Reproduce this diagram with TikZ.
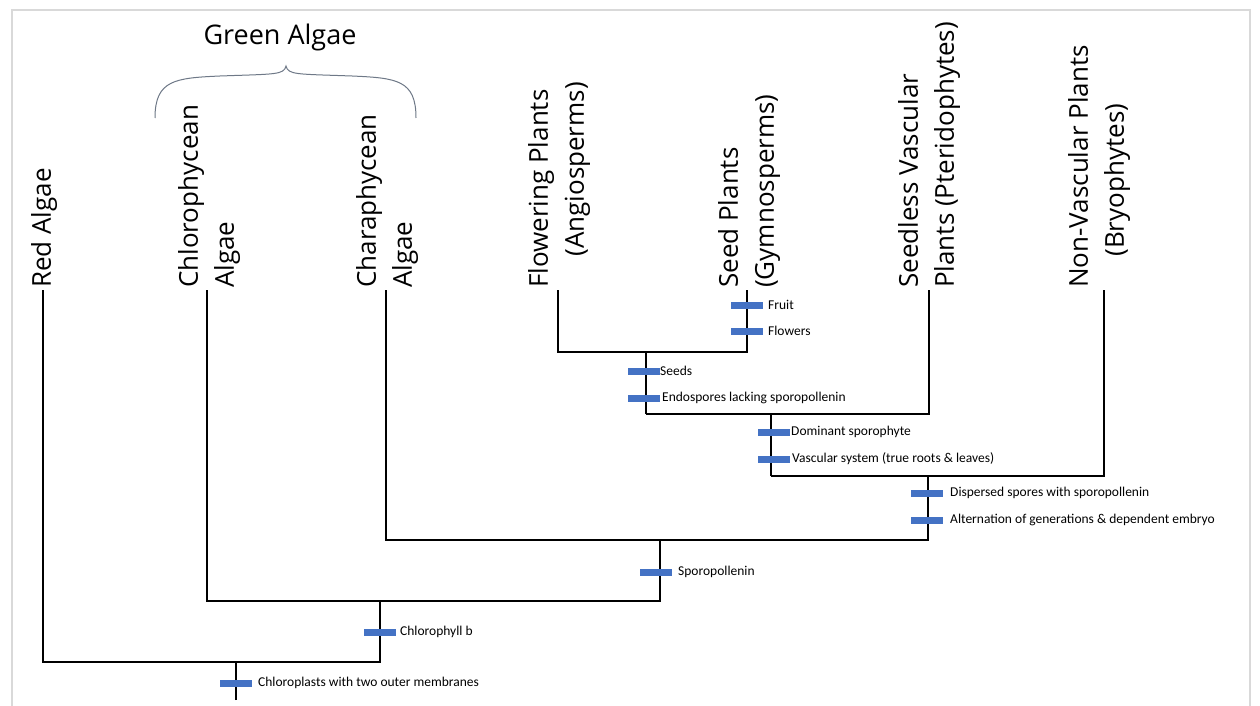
\documentclass[tikz,border=0pt]{standalone}
\usepackage{fontspec}
\setmainfont{Open Sans}
\newfontfamily\smallf{Carlito}
\definecolor{bracec}{RGB}{110,120,135}
\definecolor{mkc}{RGB}{68,114,196}
\begin{document}
\begin{tikzpicture}[x=1pt,y=-1pt,
  br/.style={line width=2pt,black},
  mk/.style={fill=mkc,draw=none,minimum width=32pt,minimum height=7pt,inner sep=0pt},
  ml/.style={font=\smallf\fontsize{13.5}{15}\selectfont,anchor=west,inner sep=0pt},
  tx/.style={font=\fontsize{26}{36}\selectfont,rotate=90,anchor=north west,align=left,inner sep=0pt}]
\useasboundingbox (0,0) rectangle (1260,706);
\fill[white] (0,0) rectangle (1260,706);
\draw[gray!30,line width=1.5pt] (12,706) -- (12,10) -- (1250,10) -- (1250,706);
% labels
\node[tx] (ra) at (31,288) {Red Algae};
\node[tx] (ch) at (178,288) {Chlorophycean\\Algae};
\node[tx] (cr) at (356,288) {Charaphycean\\Algae};
\node[tx] (fp) at (528,288) {Flowering Plants\\\hspace{1.2em}(Angiosperms)};
\node[tx] (sp) at (718,288) {Seed Plants\\(Gymnosperms)};
\node[tx] (sv) at (898,288) {Seedless Vascular\\Plants (Pteridophytes)};
\node[tx] (nv) at (1068,288) {Non-Vascular Plants\\\hspace{1.2em}(Bryophytes)};
\node[font=\fontsize{27}{30}\selectfont] (ga) at (280,37) {Green Algae};
\draw[bracec,line width=1pt] (155,118) .. controls (155,80) and (175,78) .. (220,76) .. controls (275,74) and (284,75) .. (286,66) .. controls (288,75) and (297,74) .. (352,76) .. controls (397,78) and (416,80) .. (416,118);
% tree coordinates
\coordinate (r) at (236,700);
\coordinate (n1) at (236,662);
\coordinate (n2) at (380,662);
\coordinate (n2t) at (380,601);
\coordinate (n3) at (660,601);
\coordinate (n3t) at (660,540);
\coordinate (n4) at (928,540);
\coordinate (n4t) at (928,476);
\coordinate (n5) at (771,476);
\coordinate (n5t) at (771,414);
\coordinate (n6) at (646,414);
\coordinate (n6t) at (646,352);
\draw[br] (r) -- (n1);
\draw[br] (43,290) -- (43,662) -- (n2) -- (n2t);
\draw[br] (207,290) -- (207,601) -- (n3) -- (n3t);
\draw[br] (386,290) -- (386,540) -- (n4) -- (n4t);
\draw[br] (n5) -- (1104,476) -- (1104,290);
\draw[br] (n5) -- (n5t);
\draw[br] (n6) -- (929,414) -- (929,290);
\draw[br] (n6) -- (n6t);
\draw[br] (558,290) -- (558,352) -- (747,352) -- (747,290);
% markers
\node[mk] (m1) at (236,683) {}; \node[ml] (l1) at (258,683) {Chloroplasts with two outer membranes};
\node[mk] (m2) at (380,632) {}; \node[ml] (l2) at (400,632) {Chlorophyll b};
\node[mk] (m3) at (656,572) {}; \node[ml] (l3) at (678,572) {Sporopollenin};
\node[mk] (m4) at (927,493) {}; \node[ml] (l4) at (950,493) {Dispersed spores with sporopollenin};
\node[mk] (m5) at (927,520) {}; \node[ml] (l5) at (950,520) {Alternation of generations \& dependent embryo};
\node[mk] (m6) at (774,432) {}; \node[ml] (l6) at (791,432) {Dominant sporophyte};
\node[mk] (m7) at (774,459) {}; \node[ml] (l7) at (792,459) {Vascular system (true roots \& leaves)};
\node[mk] (m8) at (644,371) {}; \node[ml] (l8) at (660,371) {Seeds};
\node[mk] (m9) at (644,398) {}; \node[ml] (l9) at (662,398) {Endospores lacking sporopollenin};
\node[mk] (m10) at (747,305) {}; \node[ml] (l10) at (768,305) {Fruit};
\node[mk] (m11) at (747,331) {}; \node[ml] (l11) at (768,331) {Flowers};
\end{tikzpicture}
\end{document}
